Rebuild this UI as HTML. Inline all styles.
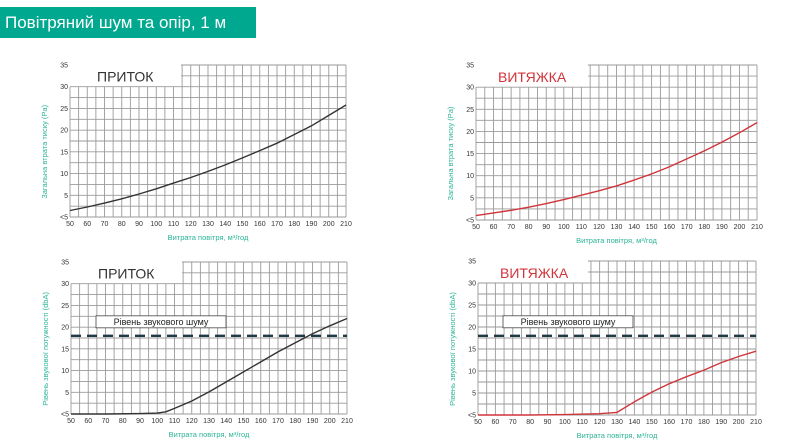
<!DOCTYPE html>
<html><head><meta charset="utf-8"><style>
body{margin:0;width:786px;height:446px;background:#fff;overflow:hidden;font-family:"Liberation Sans",sans-serif}
#banner{position:absolute;left:0;top:7px;width:256px;height:31px;background:#00a88f;color:#fff;font-size:17px;line-height:31px;padding-left:5px;box-sizing:border-box;white-space:nowrap}
svg{position:absolute;left:0;top:0}
</style></head><body>
<div id="banner">Повітряний шум та опір, 1 м</div>
<svg id="s" width="786" height="446"></svg>
<script>
const xTicks=[50,60,70,80,90,100,110,120,130,140,150,160,170,180,190,200,210];
const yTickLabels=['<5','5','10','15','20','25','30','35'];
const noiseLevel=18;
const supplyPressureX=[50,60,70,80,90,100,110,120,130,140,150,160,170,180,190,200,210];
const supplyPressureY=[1.5,2.3,3.2,4.2,5.3,6.5,7.8,9.1,10.5,12,13.6,15.3,17,19,21,23.4,25.8];
const exhaustPressureX=[50,60,70,80,90,100,110,120,130,140,150,160,170,180,190,200,210];
const exhaustPressureY=[1.0,1.6,2.2,2.9,3.7,4.6,5.6,6.6,7.7,9,10.4,12,13.8,15.6,17.6,19.7,22];
const supplyNoiseX=[50,70,90,100,105,110,120,130,140,150,160,170,180,190,200,210];
const supplyNoiseY=[0,0,0.1,0.2,0.5,1.3,3,5.1,7.4,9.7,12,14.3,16.4,18.5,20.3,22];
const exhaustNoiseX=[50,80,100,120,130,140,150,160,170,180,190,200,210];
const exhaustNoiseY=[0,0,0.1,0.3,0.6,3,5.2,7.1,8.7,10.2,11.9,13.3,14.5];

const svg=document.getElementById('s');
const NS='http://www.w3.org/2000/svg';
function mk(t,a,p){const e=document.createElementNS(NS,t);for(const k in a)e.setAttribute(k,a[k]);(p||svg).appendChild(e);return e;}

function chart(o){
  const g=mk('g',{});
  
  
  const sx=v=>o.x0+(v-50)/160*(o.x1-o.x0);
  const sy=v=>o.y0-v/35*(o.y0-o.y1);
  for(let v=50;v<=210;v+=5){const X=sx(v);const top=X>=o.boxR?sy(35):sy(30);
    const l=mk('line',{x1:X,x2:X,y1:top,y2:sy(0),stroke:'#9a9a9a','stroke-width':0.9},g);
    }
  for(let v=0;v<=35;v+=2.5){const Y=sy(v);const left=v>30?o.boxR:sx(50);
    const l=mk('line',{x1:left,x2:sx(210),y1:Y,y2:Y,stroke:'#9a9a9a','stroke-width':0.9},g);
    }
  xTicks.forEach(v=>{const t=mk('text',{x:sx(v),y:o.y0+9,'font-size':7,'text-anchor':'middle',fill:'#333'},g);t.textContent=v;
    });
  yTickLabels.forEach((s,i)=>{const t=mk('text',{x:sx(50)-2,y:sy(i*5)+2.5,'font-size':7,'text-anchor':'end',fill:'#333'},g);t.textContent=s;
    });
  const xt=mk('text',{x:(sx(50)+sx(210))/2,y:o.y0+23,'font-size':7.5,'text-anchor':'middle',fill:'#2bb497'},g);xt.textContent='Витрата повітря, м³/год';
  
  const yx=sx(50)-23,yy=(sy(0)+sy(30))/2;
  const yt=mk('text',{x:yx,y:yy,'font-size':7.5,'text-anchor':'middle',fill:'#2bb497',transform:`rotate(-90 ${yx} ${yy})`},g);yt.textContent=o.ytitle;
  
  const tt=mk('text',{x:o.titleX,y:sy(30)-5,'font-size':14,fill:o.color==='#333'?'#333':'#d0343b'},g);tt.textContent=o.title;
  
  if(o.noise){
    const dl=mk('line',{x1:sx(50),x2:sx(210),y1:sy(noiseLevel),y2:sy(noiseLevel),stroke:'#1e3a44','stroke-width':2.4,'stroke-dasharray':'10,6'},g);
    
    const bx=mk('rect',{x:o.lblX,y:sy(noiseLevel)-20,width:130,height:12,fill:'#fff',stroke:'#444','stroke-width':0.8},g);
    
    const lt=mk('text',{x:o.lblX+65,y:sy(noiseLevel)-11,'font-size':9,'text-anchor':'middle',fill:'#222'},g);lt.textContent='Рівень звукового шуму';
    
  }
  const d=o.xs.map((v,i)=>(i?'L':'M')+sx(v).toFixed(1)+','+sy(o.ys[i]).toFixed(1)).join(' ');
  const p=mk('path',{d,fill:'none',stroke:o.color,'stroke-width':1.4,'stroke-linejoin':'round'},g);
  
}
chart({name:'supply-pressure-chart',x0:70,x1:346,y0:217,y1:65,boxR:181,title:'ПРИТОК',titleX:97,color:'#333',ytitle:'Загальна втрата тиску (Pa)',xs:supplyPressureX,ys:supplyPressureY});
chart({name:'exhaust-pressure-chart',x0:476,x1:757,y0:220,y1:65,boxR:588,title:'ВИТЯЖКА',titleX:498,color:'#d0343b',ytitle:'Загальна втрата тиску (Pa)',xs:exhaustPressureX,ys:exhaustPressureY});
chart({name:'supply-noise-chart',x0:71,x1:347,y0:414,y1:262,boxR:182,title:'ПРИТОК',titleX:98,color:'#333',ytitle:'Рівень звукової потужності (dbA)',xs:supplyNoiseX,ys:supplyNoiseY,noise:true,lblX:96});
chart({name:'exhaust-noise-chart',x0:478,x1:756,y0:415,y1:261,boxR:588,title:'ВИТЯЖКА',titleX:500,color:'#d0343b',ytitle:'Рівень звукової потужності (dbA)',xs:exhaustNoiseX,ys:exhaustNoiseY,noise:true,lblX:503});
</script>
</body></html>
